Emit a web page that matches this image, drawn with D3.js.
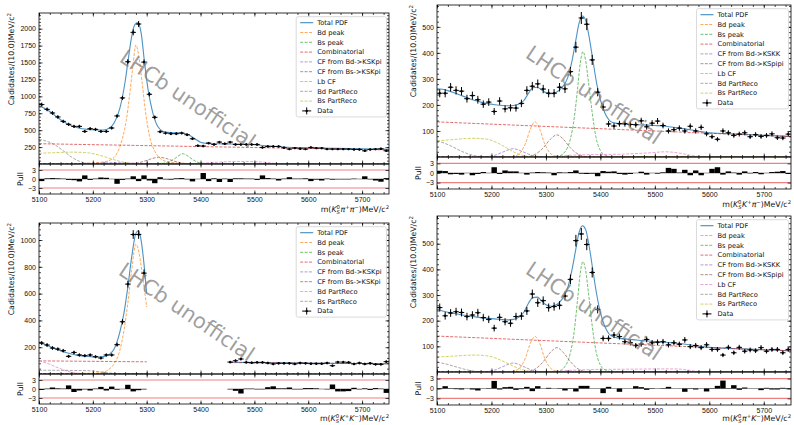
<!DOCTYPE html>
<meta charset="utf-8">
<script src="https://d3js.org/d3.v7.min.js"></script>
<style>
  body { margin: 0; background: #fff; }
  svg { font-family: "DejaVu Sans", sans-serif; }
  .tick text { font-size: 7px; fill: #111; }
  .tick line { stroke: #000; stroke-width: 0.7; }
</style>
<body>
<script>
// 10 MeV bins, 5100 - 5750
var binCentres = d3.range(5105, 5750, 10);
var xTicks = [5100, 5200, 5300, 5400, 5500, 5600, 5700];
var pullTicks = [-3, 0, 3];

// ---------- B -> KS pi pi (top left)
var tlData = [878,808,754,695,630,586,556,556,482,522,512,482,482,532,710,977,1511,1946,2069,1506,
  1031,690,477,457,448,448,457,433,373,270,265,309,289,324,299,324,289,289,289,289,
  289,245,260,260,260,240,220,235,225,220,245,235,235,220,220,220,220,220,215,215,
  195,215,220,225,195];
var tlPull = [-0.7,0.2,0.3,0.2,0.1,-0.3,-0.4,-0.8,1.2,-0.3,0.1,0.5,0.4,0.0,-1.6,-0.3,0.1,0.9,-0.7,1.2,
  -0.5,-1.4,0.6,-0.1,-0.2,0.2,0.3,-0.1,-0.8,0.0,2.0,-0.7,0.2,-1.0,0.1,-1.0,0.2,0.2,0.1,0.1,
  -0.3,1.2,0.3,0.1,-0.5,0.1,0.6,0.1,0.1,0.2,-0.7,-0.2,-0.5,0.1,-0.2,-0.1,-0.1,-0.1,0.1,0.0,
  0.9,-0.1,-0.5,-0.9,0.3];
var tlTotal = [[5100,860],[5110,825],[5120,775],[5130,715],[5140,655],[5150,605],[5160,565],[5170,540],[5180,522],[5190,512],
  [5200,506],[5210,502],[5220,503],[5230,528],[5240,615],[5250,820],[5260,1220],[5266,1560],[5272,1880],[5278,2060],
  [5284,2090],[5290,1920],[5296,1500],[5302,1130],[5310,800],[5320,560],[5330,485],[5340,468],[5350,462],[5360,462],
  [5370,452],[5380,420],[5390,370],[5400,322],[5410,305],[5420,300],[5440,298],[5460,296],[5480,292],[5500,285],
  [5520,268],[5540,258],[5560,248],[5600,240],[5650,232],[5700,224],[5750,216]];
var tlBd = [[5100,3],[5180,8],[5220,30],[5235,70],[5245,160],[5255,380],[5262,640],[5268,1000],[5274,1420],[5280,1760],
  [5286,1560],[5292,1170],[5298,760],[5305,420],[5315,190],[5325,85],[5340,30],[5370,8],[5450,0],[5750,0]];
var tlBs = [[5100,0],[5310,0],[5330,10],[5342,35],[5352,80],[5360,125],[5367,152],[5374,130],[5382,85],[5392,35],[5402,10],[5420,0],[5750,0]];
var tlComb = [[5100,300],[5750,208]];
var tlCfBd = [[5100,0],[5140,2],[5180,8],[5210,14],[5240,18],[5270,14],[5300,6],[5330,1],[5360,0],[5750,0]];
var tlCfBs = [[5100,0],[5260,0],[5280,10],[5295,40],[5310,80],[5322,100],[5335,85],[5350,45],[5365,15],[5380,3],[5400,0],[5750,0]];
var tlLb = [[5100,0],[5380,0],[5410,15],[5440,30],[5470,37],[5500,35],[5520,25],[5540,8],[5560,0],[5750,0]];
var tlBdPR = [[5100,365],[5115,335],[5130,280],[5145,195],[5160,105],[5175,40],[5190,10],[5210,0],[5750,0]];
var tlBsPR = [[5100,158],[5130,168],[5160,175],[5185,170],[5205,145],[5225,100],[5245,50],[5265,15],[5285,2],[5300,0],[5750,0]];

// ---------- B -> KS K pi (top right)
var trData = [245,245,268,256,253,224,236,220,203,211,175,215,185,189,188,206,256,272,281,261,
  245,245,268,262,328,422,534,510,373,249,192,127,119,128,128,125,124,139,116,130,
  138,121,100,105,111,100,118,100,114,89,78,68,100,93,83,88,93,78,86,79,
  83,89,74,73,88];
var trPull = [0.7,0.6,-0.4,-0.3,-0.5,0.0,-0.7,-0.3,0.3,0.0,1.8,-0.3,0.8,0.5,0.5,0.0,-0.5,0.1,0.3,0.2,
  0.1,-0.7,0.2,0.1,0.3,0.8,-0.2,-0.3,-0.2,-1.0,0.6,0.4,0.5,-0.3,-0.5,-0.3,0.0,0.4,-0.5,0.0,
  -0.2,0.2,1.6,1.3,0.1,1.0,-0.7,0.8,-0.7,0.0,1.3,1.8,-0.5,0.5,0.1,-0.5,0.5,-0.1,0.3,-0.4,
  0.0,0.3,0.4,0.6,-0.3];
var trTotal = [[5100,262],[5110,260],[5120,255],[5130,248],[5140,240],[5150,232],[5160,224],[5170,217],[5180,211],[5190,206],
  [5200,203],[5210,200],[5220,198],[5230,197],[5240,198],[5250,203],[5260,218],[5268,245],[5276,266],[5284,268],
  [5292,258],[5300,247],[5310,243],[5320,250],[5330,268],[5340,305],[5348,370],[5355,450],[5361,515],[5367,542],
  [5373,525],[5379,465],[5386,375],[5393,285],[5400,220],[5408,170],[5416,142],[5425,131],[5440,127],[5460,125],
  [5480,123],[5500,121],[5520,118],[5540,112],[5560,106],[5580,99],[5600,93],[5650,88],[5700,83],[5750,79]];
var trBd = [[5100,0],[5230,0],[5245,5],[5255,22],[5263,55],[5271,105],[5280,135],[5289,105],[5297,55],[5305,22],[5315,5],[5330,0],[5750,0]];
var trBs = [[5100,0],[5310,0],[5325,5],[5335,20],[5345,70],[5352,150],[5358,260],[5363,360],[5368,405],[5373,370],
  [5378,290],[5385,170],[5392,75],[5400,25],[5410,6],[5425,0],[5750,0]];
var trComb = [[5100,135],[5750,78]];
var trCfKK = [[5100,0],[5180,0],[5205,6],[5222,20],[5240,32],[5258,20],[5275,6],[5300,0],[5750,0]];
var trCfPiPi = [[5100,0],[5260,0],[5280,10],[5295,35],[5308,68],[5320,85],[5332,68],[5345,35],[5360,10],[5380,0],[5750,0]];
var trLb = [[5100,0],[5300,0],[5340,6],[5380,9],[5440,11],[5490,16],[5520,20],[5545,15],[5570,5],[5590,0],[5750,0]];
var trBdPR = [[5100,62],[5115,52],[5130,38],[5145,22],[5160,10],[5175,3],[5195,0],[5750,0]];
var trBsPR = [[5100,62],[5130,67],[5165,72],[5190,69],[5210,55],[5228,35],[5245,15],[5262,4],[5280,0],[5750,0]];

// ---------- B -> KS K K (bottom left), signal region blinded
var blData = [231,216,194,186,174,132,161,142,137,142,129,119,142,142,219,390,671,1041,1041,753,
  null,null,null,null,null,null,null,null,null,null,null,null,null,null,null,
  89,99,112,87,84,87,87,82,75,80,80,80,75,82,80,77,77,77,82,62,
  89,89,87,75,82,75,80,72,72,92];
var blPull = [-0.3,0.1,0.5,0.2,0.1,1.2,-1.0,-0.5,-0.1,-0.5,0.1,0.7,-0.5,0.8,-0.2,0.0,1.4,-0.8,-0.4,-0.1,
  null,null,null,null,null,null,null,null,null,null,null,null,null,null,null,
  -0.1,-0.6,-1.5,0.1,0.1,-0.1,-0.1,0.6,0.9,0.2,0.2,0.5,-0.1,-0.1,0.3,0.3,0.2,0.0,-0.1,1.5,
  -0.8,-0.8,-0.7,0.4,-0.1,0.2,-0.3,0.3,0.1,-1.3];
var blTotal = [[5100,235],[5110,222],[5120,205],[5130,188],[5140,173],[5150,160],[5160,149],[5170,141],[5180,135],[5190,131],
  [5200,128],[5210,127],[5220,130],[5230,145],[5240,190],[5250,310],[5258,460],[5265,650],[5272,870],[5280,1050],
  [5285,1070],[5290,990],[5295,820],[5300,600],[5375,null],[5455,88],[5500,85],[5600,81],[5700,78],[5750,77]];
var blBd = [[5100,3],[5200,6],[5220,15],[5230,35],[5240,80],[5250,175],[5258,330],[5265,530],[5272,770],[5280,970],
  [5286,900],[5292,740],[5300,500]];
var blBs = [[5100,0],[5300,0]];
var blComb = [[5100,98],[5300,91],[5375,null],[5455,85],[5750,76]];
var blCfBd = [[5100,0],[5270,1],[5300,3],[5375,null],[5455,2],[5750,1]];
var blCfBs = [[5100,0],[5300,0],[5375,null],[5455,0],[5750,0]];
var blBdPR = [[5100,98],[5115,80],[5130,55],[5145,32],[5160,13],[5175,4],[5190,0],[5300,0]];
var blBsPR = [[5100,28],[5150,27],[5190,25],[5210,18],[5230,8],[5250,2],[5300,0]];

// ---------- B -> KS pi K (bottom right)
var brData = [251,219,230,235,232,216,222,231,212,205,171,213,196,190,216,218,238,304,270,278,
  251,255,260,296,361,512,538,497,388,244,131,131,144,138,118,114,103,109,127,114,
  116,118,106,114,108,125,99,103,95,106,88,88,66,96,75,96,81,86,83,95,
  81,88,88,75,88];
var brPull = [-0.2,0.7,0.1,-0.2,-0.3,0.0,-0.3,-0.6,0.0,-0.1,2.3,-0.3,0.4,0.5,-0.4,-0.2,0.5,-0.8,0.7,0.0,
  0.2,0.0,-0.1,-0.6,-0.1,-0.9,0.8,0.8,0.0,0.0,-1.4,0.5,0.0,-1.0,0.0,0.0,0.7,0.4,-0.4,0.1,
  0.0,-0.1,0.5,0.0,0.0,-1.0,0.1,-0.3,0.0,-0.9,0.1,0.8,2.4,-0.1,1.0,-0.4,0.3,0.0,0.0,-0.5,
  0.2,-0.3,-0.3,0.2,-0.2];
var brTotal = [[5100,245],[5110,238],[5120,233],[5130,229],[5140,225],[5150,221],[5160,218],[5170,215],[5180,212],[5190,210],
  [5200,208],[5210,206],[5220,204],[5230,203],[5240,205],[5250,213],[5260,235],[5268,268],[5276,290],[5284,292],
  [5292,278],[5300,262],[5310,256],[5320,263],[5330,285],[5340,328],[5348,400],[5355,480],[5361,545],[5367,570],
  [5373,555],[5379,495],[5386,400],[5393,305],[5400,232],[5408,178],[5416,148],[5425,136],[5440,130],[5460,126],
  [5480,122],[5500,119],[5520,116],[5540,112],[5560,107],[5580,101],[5600,96],[5650,91],[5700,87],[5750,83]];
var brBd = [[5100,0],[5230,0],[5245,6],[5255,24],[5263,58],[5271,110],[5280,138],[5289,110],[5297,58],[5305,24],[5315,6],[5330,0],[5750,0]];
var brBs = [[5100,0],[5310,0],[5325,5],[5335,22],[5345,75],[5352,160],[5358,280],[5363,385],[5368,430],[5373,395],
  [5378,310],[5385,180],[5392,80],[5400,27],[5410,7],[5425,0],[5750,0]];
var brComb = [[5100,140],[5750,82]];
var brCfKK = [[5100,0],[5180,0],[5205,7],[5222,22],[5240,35],[5258,22],[5275,7],[5300,0],[5750,0]];
var brCfPiPi = [[5100,0],[5260,0],[5280,11],[5295,40],[5308,76],[5320,95],[5332,76],[5345,40],[5360,11],[5380,0],[5750,0]];
var brLb = [[5100,0],[5300,0],[5340,6],[5400,10],[5460,11],[5500,12],[5540,12],[5565,6],[5590,0],[5750,0]];
var brBdPR = [[5100,38],[5115,32],[5130,23],[5145,14],[5160,6],[5175,2],[5195,0],[5750,0]];
var brBsPR = [[5100,58],[5130,62],[5170,66],[5195,62],[5215,48],[5235,28],[5255,10],[5275,2],[5290,0],[5750,0]];

var C = ["#1f77b4","#ff7f0e","#2ca02c","#d62728","#9467bd","#8c564b","#e377c2","#7f7f7f","#bcbd22"];

var panels = [
  { left: 39, right: 389, top: 13, mid: 164, bottom: 194, yMax: 2232, yTicks: d3.range(250, 2001, 250), yMinor: 50,
    ylabX: 14, mark: [187, 100], parts: ["\u03c0", "\u03c0"],
    data: tlData, pull: tlPull, total: tlTotal,
    comps: [["Bd peak", C[1], tlBd], ["Bs peak", C[2], tlBs], ["Combinatorial", C[3], tlComb],
            ["CF from Bd->KSKpi", C[4], tlCfBd], ["CF from Bs->KSKpi", C[5], tlCfBs], ["Lb CF", C[6], tlLb],
            ["Bd PartReco", C[7], tlBdPR], ["Bs PartReco", C[8], tlBsPR]] },
  { left: 437, right: 791, top: 5, mid: 157, bottom: 189, yMax: 584, yTicks: [100, 200, 300, 400, 500], yMinor: 20,
    ylabX: 416, mark: [593, 96], parts: ["K", "\u03c0"],
    data: trData, pull: trPull, total: trTotal,
    comps: [["Bd peak", C[1], trBd], ["Bs peak", C[2], trBs], ["Combinatorial", C[3], trComb],
            ["CF from Bd->KSKK", C[4], trCfKK], ["CF from Bd->KSpipi", C[5], trCfPiPi], ["Lb CF", C[6], trLb],
            ["Bd PartReco", C[7], trBdPR], ["Bs PartReco", C[8], trBsPR]] },
  { left: 39, right: 389, top: 223, mid: 374, bottom: 404, yMax: 1127, yTicks: [200, 400, 600, 800, 1000], yMinor: 40,
    ylabX: 14, mark: [186, 313], parts: ["K", "K"],
    data: blData, pull: blPull, total: blTotal,
    comps: [["Bd peak", C[1], blBd], ["Bs peak", C[2], blBs], ["Combinatorial", C[3], blComb],
            ["CF from Bd->KSKpi", C[4], blCfBd], ["CF from Bs->KSKpi", C[5], blCfBs],
            ["Bd PartReco", C[6], blBdPR], ["Bs PartReco", C[7], blBsPR]] },
  { left: 437, right: 791, top: 216, mid: 372, bottom: 405, yMax: 608, yTicks: [100, 200, 300, 400, 500], yMinor: 20,
    ylabX: 416, mark: [593, 312], parts: ["\u03c0", "K"],
    data: brData, pull: brPull, total: brTotal,
    comps: [["Bd peak", C[1], brBd], ["Bs peak", C[2], brBs], ["Combinatorial", C[3], brComb],
            ["CF from Bd->KSKK", C[4], brCfKK], ["CF from Bd->KSpipi", C[5], brCfPiPi], ["Lb CF", C[6], brLb],
            ["Bd PartReco", C[7], brBdPR], ["Bs PartReco", C[8], brBsPR]] }
];

var svg = d3.select("body").append("svg").attr("width", 794).attr("height", 425);

panels.forEach(function(p, pi) {
  var x = d3.scaleLinear().domain([5100, 5750]).range([p.left, p.right]);
  var y = d3.scaleLinear().domain([0, p.yMax]).range([p.mid, p.top]);
  var yp = d3.scaleLinear().domain([-5, 5]).range([p.bottom, p.mid]);
  var g = svg.append("g");

  var clipId = "clip" + pi;
  svg.append("clipPath").attr("id", clipId).append("rect")
    .attr("x", p.left).attr("y", p.top).attr("width", p.right - p.left).attr("height", p.mid - p.top);

  var line = d3.line()
    .defined(function(d) { return d[1] != null; })
    .x(function(d) { return x(d[0]); })
    .y(function(d) { return y(d[1]); })
    .curve(d3.curveMonotoneX);

  var plot = g.append("g").attr("clip-path", "url(#" + clipId + ")");

  // total pdf
  plot.append("path").attr("d", line(p.total)).attr("fill", "none")
    .attr("stroke", C[0]).attr("stroke-width", 1.1).attr("stroke-opacity", 0.8);

  // components
  p.comps.forEach(function(c) {
    plot.append("path").attr("d", line(c[2])).attr("fill", "none")
      .attr("stroke", c[1]).attr("stroke-width", 0.8).attr("stroke-opacity", 0.85)
      .attr("stroke-dasharray", "3,1.4");
  });

  // data points
  var pts = binCentres.map(function(m, i) { return [m, p.data[i]]; })
    .filter(function(d) { return d[1] != null; });
  var dg = plot.append("g").selectAll("g").data(pts).enter().append("g");
  dg.append("line")
    .attr("x1", function(d) { return x(d[0] - 5); }).attr("x2", function(d) { return x(d[0] + 5); })
    .attr("y1", function(d) { return y(d[1]); }).attr("y2", function(d) { return y(d[1]); })
    .attr("stroke", "#000").attr("stroke-width", 1);
  dg.append("line")
    .attr("x1", function(d) { return x(d[0]); }).attr("x2", function(d) { return x(d[0]); })
    .attr("y1", function(d) { return y(d[1] - Math.sqrt(d[1])); })
    .attr("y2", function(d) { return y(d[1] + Math.sqrt(d[1])); })
    .attr("stroke", "#000").attr("stroke-width", 1);
  dg.append("circle").attr("cx", function(d) { return x(d[0]); }).attr("cy", function(d) { return y(d[1]); })
    .attr("r", 1.2).attr("fill", "#000");

  // pull panel
  [-3, 3].forEach(function(v) {
    g.append("line").attr("x1", p.left).attr("x2", p.right).attr("y1", yp(v)).attr("y2", yp(v))
      .attr("stroke", "#f08080").attr("stroke-width", 1.1);
  });
  var pulls = binCentres.map(function(m, i) { return [m, p.pull[i]]; })
    .filter(function(d) { return d[1] != null; });
  g.append("g").selectAll("line").data(pulls).enter().append("line")
    .attr("x1", function(d) { return x(d[0] - 5); }).attr("x2", function(d) { return x(d[0] + 5); })
    .attr("y1", yp(0)).attr("y2", yp(0)).attr("stroke", "#999").attr("stroke-width", 1);
  g.append("g").selectAll("rect").data(pulls).enter().append("rect")
    .attr("x", function(d) { return x(d[0] - 5); })
    .attr("width", function(d) { return x(d[0] + 5) - x(d[0] - 5); })
    .attr("y", function(d) { return yp(Math.max(d[1], 0)); })
    .attr("height", function(d) { return Math.abs(yp(d[1]) - yp(0)); })
    .attr("fill", "#000");

  // axes: ticks inward on all sides
  function clean(sel) { sel.select(".domain").remove(); }
  var xMinor = d3.range(5100, 5751, 20);
  [[p.mid, d3.axisTop], [p.top, d3.axisBottom], [p.bottom, d3.axisTop], [p.mid, d3.axisBottom]].forEach(function(a) {
    g.append("g").attr("transform", "translate(0," + a[0] + ")")
      .call(a[1](x).tickValues(xTicks).tickSize(3.5).tickFormat("")).call(clean);
    g.append("g").attr("transform", "translate(0," + a[0] + ")")
      .call(a[1](x).tickValues(xMinor).tickSize(2).tickFormat("")).call(clean);
  });
  g.append("g").attr("transform", "translate(0," + p.bottom + ")")
    .call(d3.axisBottom(x).tickValues(xTicks).tickSize(0).tickPadding(3.5).tickFormat(d3.format("d"))).call(clean);

  var yMinor = d3.range(p.yMinor, p.yMax, p.yMinor);
  g.append("g").attr("transform", "translate(" + p.left + ",0)")
    .call(d3.axisLeft(y).tickValues(p.yTicks).tickSize(-3.5).tickPadding(3).tickFormat(d3.format("d"))).call(clean);
  g.append("g").attr("transform", "translate(" + p.left + ",0)")
    .call(d3.axisLeft(y).tickValues(yMinor).tickSize(-2).tickFormat("")).call(clean);
  g.append("g").attr("transform", "translate(" + p.right + ",0)")
    .call(d3.axisRight(y).tickValues(p.yTicks).tickSize(-3.5).tickFormat("")).call(clean);
  g.append("g").attr("transform", "translate(" + p.right + ",0)")
    .call(d3.axisRight(y).tickValues(yMinor).tickSize(-2).tickFormat("")).call(clean);
  g.append("g").attr("transform", "translate(" + p.left + ",0)")
    .call(d3.axisLeft(yp).tickValues(pullTicks).tickSize(-3.5).tickPadding(3).tickFormat(d3.format("d"))).call(clean);
  g.append("g").attr("transform", "translate(" + p.right + ",0)")
    .call(d3.axisRight(yp).tickValues(pullTicks).tickSize(-3.5).tickFormat("")).call(clean);

  // frames
  g.append("rect").attr("x", p.left).attr("y", p.top).attr("width", p.right - p.left).attr("height", p.mid - p.top)
    .attr("fill", "none").attr("stroke", "#000").attr("stroke-width", 0.8);
  g.append("rect").attr("x", p.left).attr("y", p.mid).attr("width", p.right - p.left).attr("height", p.bottom - p.mid)
    .attr("fill", "none").attr("stroke", "#000").attr("stroke-width", 0.8);

  // axis labels
  var yl = g.append("text").attr("transform", "translate(" + p.ylabX + "," + p.top + ") rotate(-90)")
    .attr("text-anchor", "end").attr("font-size", 7.8).attr("fill", "#111");
  yl.append("tspan").text("Cadidates/(10.0)MeV/c");
  yl.append("tspan").text("2").attr("font-size", 5.5).attr("dy", -3);
  g.append("text").attr("transform", "translate(" + (p.left - 16) + "," + yp(0) + ") rotate(-90)")
    .attr("text-anchor", "middle").attr("font-size", 7.8).attr("fill", "#111").text("Pull");

  var xl = g.append("text").attr("x", p.right).attr("y", Math.min(p.bottom + 18, 421))
    .attr("text-anchor", "end").attr("font-size", 7.8).attr("fill", "#111");
  xl.append("tspan").text("m(");
  xl.append("tspan").text("K").attr("font-style", "italic");
  xl.append("tspan").text("0").attr("font-size", 5.3).attr("dy", -3);
  xl.append("tspan").text("S").attr("font-size", 5.3).attr("font-style", "italic").attr("dx", -3.3).attr("dy", 5);
  xl.append("tspan").text(p.parts[0]).attr("font-style", "italic").attr("dy", -2).attr("dx", 0.5);
  xl.append("tspan").text("+").attr("font-size", 5.3).attr("dy", -3);
  xl.append("tspan").text(p.parts[1]).attr("font-style", "italic").attr("dy", 3);
  xl.append("tspan").text("\u2212").attr("font-size", 5.3).attr("dy", -3);
  xl.append("tspan").text(")MeV/c").attr("dy", 3);
  xl.append("tspan").text("2").attr("font-size", 5.3).attr("dy", -3);

  // legend
  var labels = ["Total PDF"].concat(p.comps.map(function(c) { return c[0]; })).concat(["Data"]);
  var colors = [C[0]].concat(p.comps.map(function(c) { return c[1]; })).concat(["#000"]);
  var rowH = 9.8, boxTop = p.top + 3.7;
  var lg = g.append("g");
  var box = lg.append("rect");
  var texts = [];
  labels.forEach(function(lab, i) {
    var cy = boxTop + 6 + i * rowH;
    texts.push(lg.append("text").attr("y", cy + 2.3).attr("font-size", 6.7).attr("fill", "#111").text(lab));
  });
  var maxW = d3.max(texts, function(t) { return t.node().getComputedTextLength(); });
  var boxW = maxW + 26, boxX = p.right - 2.5 - boxW;
  var boxH = (labels.length - 1) * rowH + 12;
  box.attr("x", boxX).attr("y", boxTop).attr("width", boxW).attr("height", boxH).attr("rx", 2)
    .attr("fill", "#fff").attr("fill-opacity", 0.8).attr("stroke", "#d0d0d0").attr("stroke-width", 0.8);
  texts.forEach(function(t, i) {
    var cy = boxTop + 6 + i * rowH;
    t.attr("x", boxX + 21);
    if (i === labels.length - 1) {
      lg.append("line").attr("x1", boxX + 6).attr("x2", boxX + 15).attr("y1", cy).attr("y2", cy)
        .attr("stroke", "#000").attr("stroke-width", 1);
      lg.append("line").attr("x1", boxX + 10.5).attr("x2", boxX + 10.5).attr("y1", cy - 3.5).attr("y2", cy + 3.5)
        .attr("stroke", "#000").attr("stroke-width", 1);
      lg.append("circle").attr("cx", boxX + 10.5).attr("cy", cy).attr("r", 1.2).attr("fill", "#000");
    } else {
      lg.append("line").attr("x1", boxX + 4).attr("x2", boxX + 17).attr("y1", cy).attr("y2", cy)
        .attr("stroke", colors[i]).attr("stroke-width", i === 0 ? 1.1 : 0.8)
        .attr("stroke-opacity", 0.85)
        .attr("stroke-dasharray", i === 0 ? null : "3,1.4");
    }
  });

  // watermark
  g.append("text").attr("transform", "translate(" + p.mark[0] + "," + p.mark[1] + ") rotate(34)")
    .attr("text-anchor", "middle").attr("dominant-baseline", "middle")
    .attr("font-size", 21).attr("fill", "#808080").attr("fill-opacity", 0.75)
    .text("LHCb unofficial");
});
</script>
</body>
